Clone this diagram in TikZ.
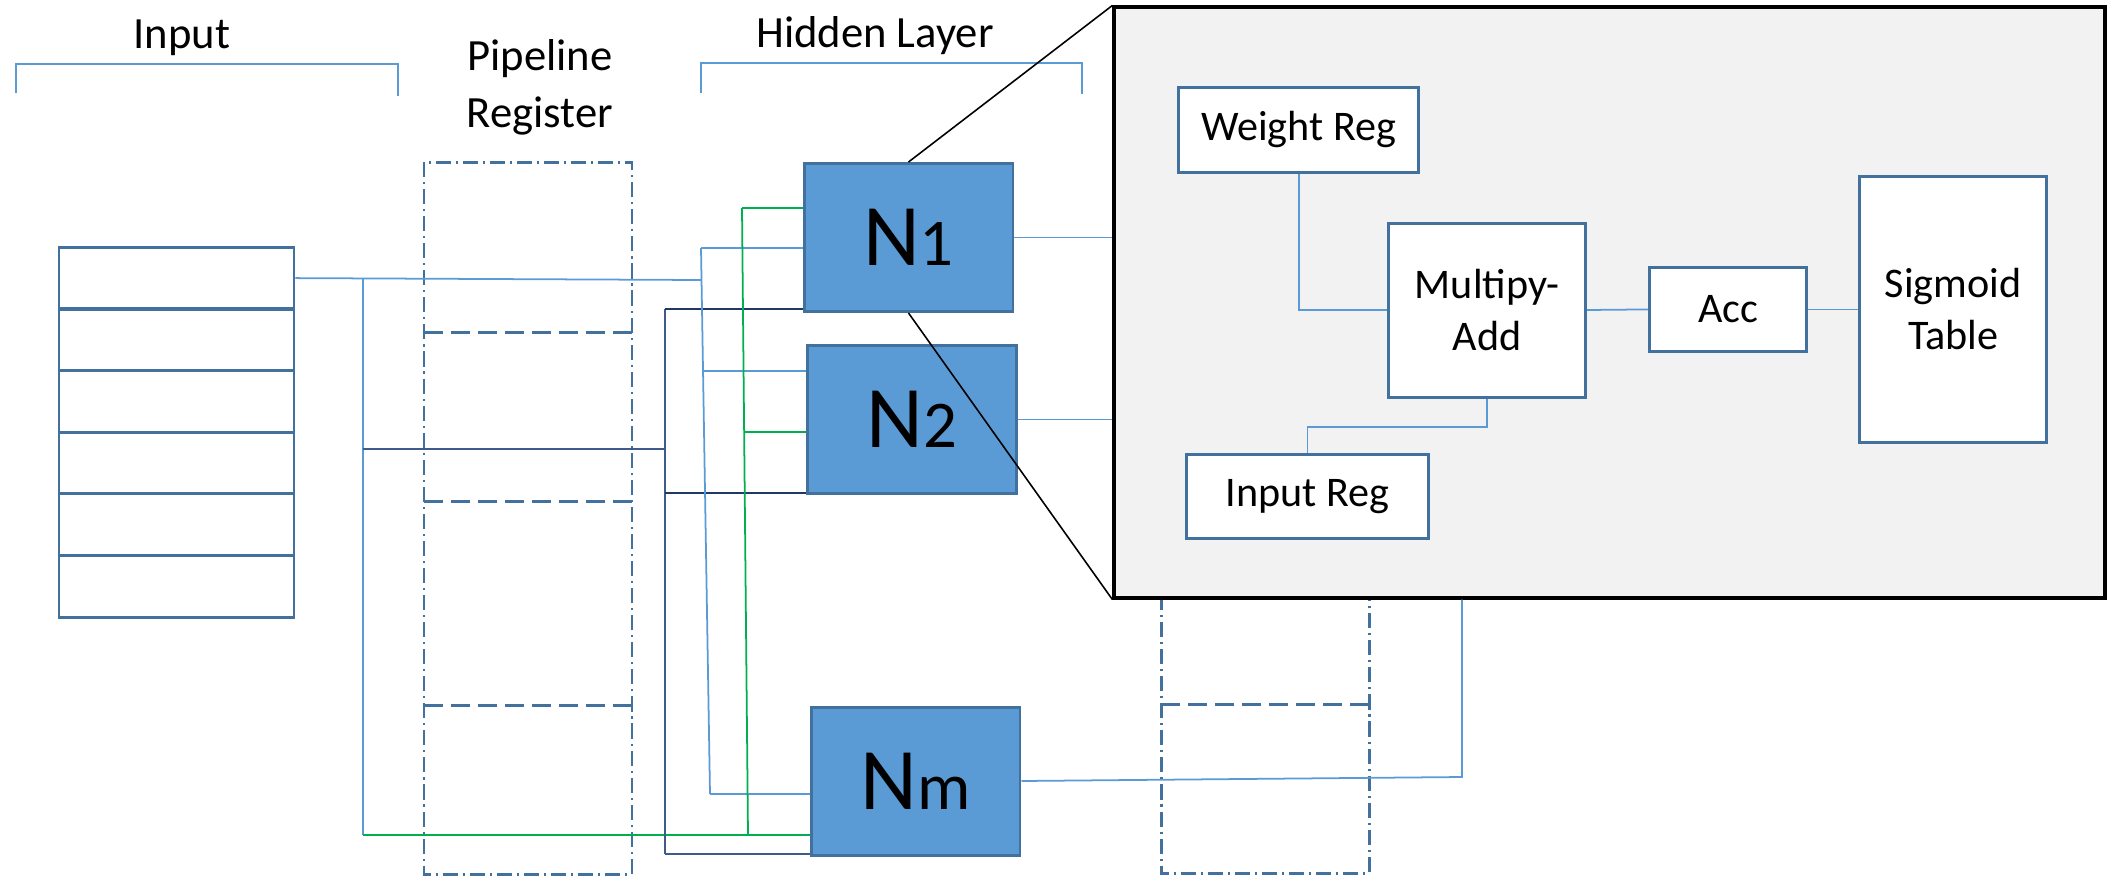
\documentclass[tikz,border=0pt]{standalone}
\usepackage{fontspec}
\setmainfont{Carlito}
\definecolor{CellBlue}{HTML}{5B9BD5}
\definecolor{EdgeBlue}{HTML}{41719C}
\definecolor{WireBlue}{HTML}{5B9BD5}
\definecolor{WireGreen}{HTML}{00B050}
\definecolor{WireNavy}{HTML}{203864}
\definecolor{BusNavy}{HTML}{3F5B8C}
\definecolor{ZoomGray}{HTML}{F2F2F2}
\newcommand{\neuronlabel}[1]{{\fontsize{25}{30}\selectfont N}{\fontsize{19}{22}\selectfont #1}}

\begin{document}
\begin{tikzpicture}[x=0.1mm,y=-0.1mm,
  neuron/.style={draw=EdgeBlue,fill=CellBlue,line width=0.85pt,minimum width=20.9mm,minimum height=14.8mm,inner sep=0pt},
  cell/.style={draw=EdgeBlue,line width=0.85pt,minimum width=23.5mm,minimum height=6.16mm,inner sep=0pt},
  block/.style={draw=EdgeBlue,fill=white,line width=0.85pt,inner sep=0pt,align=center,font=\fontsize{12}{14.8}\selectfont},
  heading/.style={font=\fontsize{12.7}{15}\selectfont,inner sep=0pt,anchor=base},
  wire/.style={draw=WireBlue,line width=0.5pt},
  gwire/.style={draw=WireGreen,line width=0.5pt},
  nwire/.style={draw=WireNavy,line width=0.6pt},
  bus/.style={draw=BusNavy,line width=0.7pt},
  layerbar/.style={draw=WireBlue,line width=0.5pt},
  pipe/.style={draw=EdgeBlue,line width=0.85pt,dash pattern=on 4.3pt off 1.4pt on 0.6pt off 1.4pt},
  pipecut/.style={draw=EdgeBlue,line width=0.85pt,dash pattern=on 5.4pt off 2.3pt},
  zoomline/.style={draw=black,line width=0.45pt}]
\useasboundingbox (0,0) rectangle (2110,876);

% headings
\node[heading] (tin) at (182,48) {Input};
\node[heading] (tpipe) at (540,70) {Pipeline};
\node[heading] (treg) at (540,127) {Register};
\node[heading] (thid) at (875,47) {Hidden Layer};
\draw[layerbar] (16,93) -- (16,64) -- (398,64) -- (398,96);
\draw[layerbar] (701,93) -- (701,63) -- (1082,63) -- (1082,94);

% pipeline registers
\draw[pipe] (424,162) rectangle (632,874);
\draw[pipecut] (424,332) -- (632,332);
\draw[pipecut] (424,501) -- (632,501);
\draw[pipecut] (424,705) -- (632,705);
\draw[pipe] (1161,162) rectangle (1369,873);
\draw[pipecut] (1161,332) -- (1369,332);
\draw[pipecut] (1161,501) -- (1369,501);
\draw[pipecut] (1161,704) -- (1369,704);

% zoomed neuron
\node[draw=black,fill=ZoomGray,line width=0.9pt,minimum width=99.1mm,minimum height=59.1mm,inner sep=0pt] (zoom) at (1609.5,302.5) {};
\node[block,minimum width=24.05mm,minimum height=8.44mm] (wreg) at (1298.7,129.8) {Weight Reg};
\node[block,minimum width=19.72mm,minimum height=17.4mm] (madd) at (1487.1,310) {Multipy-\\Add};
\node[block,minimum width=15.68mm,minimum height=8.47mm] (acc) at (1728.1,309.4) {Acc};
\node[block,minimum width=18.69mm,minimum height=26.68mm] (sig) at (1953.2,309.4) {Sigmoid\\Table};
\node[block,minimum width=24.14mm,minimum height=8.42mm] (ireg) at (1307.5,496.4) {Input Reg};
\draw[wire] (wreg.south) |- (madd.west);
\draw[wire] (madd.east) -- (acc.west);
\draw[wire] (acc.east) -- (sig.west);
\draw[wire] (madd.south) -- ++(0,28.6) -| (ireg.north);

% input
\node[cell] (in1) at (176.5,278.1) {};
\node[cell] (in2) at (176.5,339.8) {};
\node[cell] (in3) at (176.5,401.4) {};
\node[cell] (in4) at (176.5,463) {};
\node[cell] (in5) at (176.5,524.6) {};
\node[cell] (in6) at (176.5,586.2) {};

% hidden layer
\node[neuron] (N1) at (908.5,237.5) {\neuronlabel{1}};
\node[neuron] (N2) at (912,419.5) {\neuronlabel{2}};
\node[neuron] (Nm) at (915.5,781) {\neuronlabel{m}};

\coordinate (fork) at (363,278.1);
\coordinate (forkend) at (363,835);
\coordinate (nfeed) at (363,449);
\coordinate (ntop) at (665,309);
\coordinate (nmid) at (665,493);
\coordinate (nbot) at (665,854);
\coordinate (ltop) at (701,248);
\coordinate (ljoin) at (701.5,280);
\coordinate (lmid) at (703,371);
\coordinate (lbot) at (710,794);
\coordinate (gtop) at (742,208);
\coordinate (gmid) at (744,432);
\coordinate (gbot) at (748,835);
\coordinate (mout) at (1462,777);

% wires
\draw[wire] (in1.east) -- (ljoin);
\draw[wire] (fork) -- (forkend);
\draw[gwire] (forkend) -- (forkend -| Nm.west);
\draw[bus] (nfeed) -- (nfeed -| ntop);
\draw[bus] (ntop) -- (nbot);
\draw[nwire] (ntop) -- (ntop -| N1.west);
\draw[nwire] (nmid) -- (nmid -| N2.west);
\draw[bus] (nbot) -- (nbot -| Nm.west);
\draw[wire] (ltop) -- (lbot);
\draw[wire] (ltop) -- (ltop -| N1.west);
\draw[wire] (lmid) -- (lmid -| N2.west);
\draw[wire] (lbot) -- (lbot -| Nm.west);
\draw[gwire] (gtop) -- (gbot);
\draw[gwire] (gtop) -- (gtop -| N1.west);
\draw[gwire] (gmid) -- (gmid -| N2.west);
\draw[wire] (N1.east) -- (N1.east -| zoom.west);
\draw[wire] (N2.east) -- (N2.east -| zoom.west);
\draw[wire] (Nm.east) -- (mout) -- (mout |- zoom.south);

\draw[zoomline] (N1.north) -- (zoom.north west);
\draw[zoomline] (N1.south) -- (zoom.south west);
\end{tikzpicture}
\end{document}
